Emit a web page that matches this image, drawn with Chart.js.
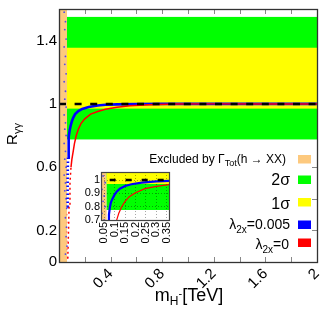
<!DOCTYPE html>
<html>
<head>
<meta charset="utf-8">
<script src="https://cdn.jsdelivr.net/npm/chart.js@4.4.0/dist/chart.umd.min.js"></script>
<style>
  html, body { margin: 0; padding: 0; background: #fff; }
  #wrap { position: relative; width: 335px; height: 310px; }
  #main { position: absolute; left: 0; top: 0; }
  #inset { position: absolute; left: 78px; top: 168px; }
</style>
</head>
<body>
<div id="wrap">
  <canvas id="main" width="335" height="310"></canvas>
  <canvas id="inset" width="96" height="84"></canvas>
</div>
<script>
/* data: R_γγ vs m_H- */
const excludedMax = 0.062;          // Γ_Tot(h → XX) excluded region (TeV)
const band2s = [0.775, 1.55];
const band1s = [0.97, 1.355];
const refY = 1;

const blueX = [0.064, 0.067, 0.07, 0.073, 0.077, 0.082, 0.09, 0.1, 0.11, 0.125, 0.15, 0.18, 0.23, 0.3, 0.36, 0.45, 0.6, 0.8, 1.1, 1.5, 2.0];
const blueY = [0.35, 0.55, 0.66, 0.74, 0.79, 0.83, 0.86, 0.89, 0.912, 0.935, 0.955, 0.968, 0.98, 0.99, 0.994, 0.997, 0.999, 1.0, 1.0, 1.0, 1.0];

const redX = [0.068, 0.072, 0.078, 0.085, 0.093, 0.1, 0.111, 0.12, 0.134, 0.15, 0.17, 0.2, 0.245, 0.3, 0.36, 0.45, 0.55, 0.7, 0.9, 1.2, 1.6, 2.0];
const redY = [0.02, 0.14, 0.35, 0.5, 0.6, 0.65, 0.705, 0.75, 0.8, 0.84, 0.875, 0.905, 0.935, 0.952, 0.966, 0.978, 0.988, 0.995, 0.999, 1.0, 1.0, 1.0];

// scattered points inside the excluded strip
const blueDotX = [0.04, 0.05, 0.045, 0.055, 0.04, 0.05, 0.045, 0.055, 0.04, 0.05, 0.045, 0.055, 0.04, 0.05, 0.045, 0.055, 0.04, 0.05, 0.045, 0.055, 0.04, 0.05, 0.045, 0.055, 0.06, 0.05, 0.058, 0.055, 0.062, 0.05];
const blueDotY = [1.58, 1.52, 1.47, 1.41, 1.36, 1.3, 1.25, 1.19, 1.14, 1.08, 1.03, 0.98, 0.93, 0.88, 0.84, 0.8, 0.75, 0.7, 0.65, 0.6, 0.55, 0.5, 0.45, 0.4, 0.34, 0.28, 0.22, 0.16, 0.1, 0.05];
const redDotX = [0.062, 0.065, 0.06, 0.066, 0.063, 0.067];
const redDotY = [0.3, 0.25, 0.19, 0.13, 0.08, 0.03];

const xTicks = [0, 0.2, 0.4, 0.6, 0.8, 1, 1.2, 1.4, 1.6, 1.8, 2];
const xTickLabels = ['', '', '0.4', '', '0.8', '', '1.2', '', '1.6', '', '2'];
const yTicks = [0, 0.2, 0.4, 0.6, 0.8, 1, 1.2, 1.4, 1.6];
const yTickLabels = ['0', '0.2', '', '0.6', '', '1', '', '1.4', ''];

const insetXTicks = [0.05, 0.1, 0.15, 0.2, 0.25, 0.3, 0.35];
const insetXTickLabels = ['0.05', '0.1', '0.15', '0.2', '0.25', '0.3', '0.35'];
const insetYTicks = [0.7, 0.8, 0.9, 1];
const insetYTickLabels = ['0.7', '0.8', '0.9', '1'];

const legendColors = ['#fdc97e', '#00ff00', '#ffff00', '#0000ff', '#ff0000'];

const ORANGE = '#fdc97e', GREEN = '#00ff00', YELLOW = '#ffff00', BLUE = '#0000ff', RED = '#ff0000';
const FAM = '"Liberation Sans", Arial, Helvetica, sans-serif';
Chart.defaults.font.family = FAM;
Chart.defaults.color = '#000';

const pts = (xs, ys) => xs.map((x, i) => ({ x, y: ys[i] }));
const noPadX = s => { s.paddingLeft = 0; s.paddingRight = 0; };
const noPadY = s => { s.paddingTop = 0; s.paddingBottom = 0; };

/* text with sub/superscripts: parts = [text, size, dy] */
function richWidth(ctx, parts) {
  return parts.reduce((w, [t, s]) => { ctx.font = s + 'px ' + FAM; return w + ctx.measureText(t).width; }, 0);
}
function drawRich(ctx, parts, x, y) {
  parts.forEach(([t, s, dy]) => {
    ctx.font = s + 'px ' + FAM;
    ctx.fillText(t, x, y + (dy || 0));
    x += ctx.measureText(t).width;
  });
}

function datasets(lw) {
  return [
    { data: [{ x: 0, y: refY }, { x: 2, y: refY }], showLine: true, borderColor: '#000', borderWidth: 2.5,
      borderDash: lw.dash, pointRadius: 0 },
    { data: pts(redX, redY), showLine: true, borderColor: RED, borderWidth: lw.red, pointRadius: 0,
      segment: { borderDash: c => c.p1.parsed.y < 0.62 ? [2, 3] : undefined } },
    { data: pts(blueX, blueY), showLine: true, borderColor: BLUE, borderWidth: lw.blue, pointRadius: 0,
      segment: { borderDash: c => c.p1.parsed.y < 0.74 ? [1.5, 2.5] : undefined } },
    { data: pts(blueDotX, blueDotY), showLine: false, pointRadius: 0.9, pointBorderWidth: 0,
      pointBackgroundColor: 'rgba(40,40,255,0.8)' },
    { data: pts(redDotX, redDotY), showLine: false, pointRadius: 0.9, pointBorderWidth: 0,
      pointBackgroundColor: 'rgba(255,80,80,0.5)' },
  ];
}

function fillBands(chart) {
  const { ctx, chartArea: a, scales: { x, y } } = chart;
  const px = v => Math.max(a.left, Math.min(a.right, x.getPixelForValue(v)));
  const py = v => Math.max(a.top, Math.min(a.bottom, y.getPixelForValue(v)));
  const rect = (x0, x1, y0, y1, c) => { ctx.fillStyle = c; ctx.fillRect(px(x0), py(y1), px(x1) - px(x0), py(y0) - py(y1)); };
  rect(x.min, excludedMax, y.min, y.max, ORANGE);
  rect(excludedMax, x.max, band2s[0], band2s[1], GREEN);
  rect(excludedMax, x.max, band1s[0], band1s[1], YELLOW);
}

/* ---- main chart ---- */
const mainPlugin = {
  id: 'mainDeco',
  beforeDraw(chart) {
    const { ctx, chartArea: a, scales: { x, y } } = chart;
    ctx.save();
    ctx.fillStyle = '#fff';
    ctx.fillRect(0, 0, chart.width, chart.height);
    ctx.strokeStyle = '#888';
    ctx.lineWidth = 1;
    ctx.beginPath();
    xTicks.forEach(v => {
      const p = Math.round(x.getPixelForValue(v)) + 0.5;
      ctx.moveTo(p, a.bottom); ctx.lineTo(p, a.bottom - 5);
      ctx.moveTo(p, a.top); ctx.lineTo(p, a.top + 5);
    });
    yTicks.forEach(v => {
      const p = Math.round(y.getPixelForValue(v)) + 0.5;
      ctx.moveTo(a.left, p); ctx.lineTo(a.left + 5, p);
      ctx.moveTo(a.right, p); ctx.lineTo(a.right - 5, p);
    });
    ctx.stroke();
    fillBands(chart);
    ctx.restore();
  },
  afterDraw(chart) {
    const { ctx, chartArea: a } = chart;
    ctx.save();
    ctx.strokeStyle = '#333';
    ctx.lineWidth = 1.3;
    ctx.strokeRect(a.left + 0.5, a.top + 0.5, a.right - a.left, a.bottom - a.top);

    // legend
    ctx.textBaseline = 'alphabetic';
    const items = [
      { parts: [['Excluded by Γ', 12], ['Tot', 9, 3], ['(h → XX)', 12]], base: 163, right: 286, box: 155 },
      { parts: [['2σ', 16]], base: 185, right: 290, box: 175.5 },
      { parts: [['1σ', 16]], base: 209, right: 290, box: 198 },
      { parts: [['λ', 14], ['2x', 10, 4], ['=0.005', 14]], base: 228.5, right: 290, box: 220.5 },
      { parts: [['λ', 14], ['2x', 10, 4], ['=0', 14]], base: 248.5, right: 289, box: 238.5 },
    ];
    items.forEach((it, i) => {
      ctx.fillStyle = '#000';
      drawRich(ctx, it.parts, it.right - richWidth(ctx, it.parts), it.base);
      ctx.fillStyle = legendColors[i];
      ctx.fillRect(298, it.box, 13, 8.5);
    });

    // axis titles
    ctx.fillStyle = '#000';
    const xt = [['m', 18], ['H', 12, 4], ['-', 11, -4], ['[TeV]', 18]];
    drawRich(ctx, xt, 189 - richWidth(ctx, xt) / 2, 301);
    const yt = [['R', 15], ['γγ', 11, 4]];
    ctx.translate(16.5, 134);
    ctx.rotate(-Math.PI / 2);
    drawRich(ctx, yt, -richWidth(ctx, yt) / 2, 0);
    ctx.restore();
  }
};

new Chart(document.getElementById('main'), {
  type: 'scatter',
  data: { datasets: datasets({ red: 1.5, blue: 2.6, dash: [7, 8.6] }) },
  options: {
    responsive: false,
    animation: false,
    devicePixelRatio: 1,
    events: [],
    layout: { padding: { left: 0, top: 9, right: 18, bottom: 0 } },
    plugins: { legend: { display: false }, tooltip: { enabled: false } },
    scales: {
      x: {
        type: 'linear', min: 0, max: 2,
        afterBuildTicks: s => { s.ticks = xTicks.map(v => ({ value: v })); },
        afterFit: s => { s.height = 48; noPadX(s); },
        ticks: { callback: (v, i) => xTickLabels[i], minRotation: 45, maxRotation: 45, autoSkip: false,
                 font: { size: 15 }, padding: 3 },
        grid: { display: false, drawTicks: false }, border: { display: false }
      },
      y: {
        type: 'linear', min: 0, max: 1.6,
        afterBuildTicks: s => { s.ticks = yTicks.map(v => ({ value: v })); },
        afterFit: s => { s.width = 59; noPadY(s); },
        ticks: { callback: (v, i) => yTickLabels[i], autoSkip: false, font: { size: 15 }, padding: 2 },
        grid: { display: false, drawTicks: false }, border: { display: false }
      }
    }
  },
  plugins: [mainPlugin]
});

/* ---- inset: zoom on the low-mass region ---- */
const insetPlugin = {
  id: 'insetDeco',
  beforeDraw(chart) { chart.ctx.save(); fillBands(chart); chart.ctx.restore(); },
  afterDraw(chart) {
    const { ctx, chartArea: a } = chart;
    ctx.save();
    ctx.strokeStyle = '#444';
    ctx.lineWidth = 1.2;
    ctx.strokeRect(a.left + 0.5, a.top + 0.5, a.right - a.left, a.bottom - a.top);
    ctx.restore();
  }
};

new Chart(document.getElementById('inset'), {
  type: 'scatter',
  data: { datasets: datasets({ red: 1.2, blue: 2.2, dash: [6, 10] }) },
  options: {
    responsive: false,
    animation: false,
    devicePixelRatio: 1,
    events: [],
    layout: { padding: { left: 0, top: 4, right: 5, bottom: 0 } },
    plugins: { legend: { display: false }, tooltip: { enabled: false } },
    scales: {
      x: {
        type: 'linear', min: 0.035, max: 0.36,
        afterBuildTicks: s => { s.ticks = insetXTicks.map(v => ({ value: v })); },
        afterFit: s => { s.height = 32; noPadX(s); },
        ticks: { callback: (v, i) => insetXTickLabels[i], minRotation: 90, maxRotation: 90, autoSkip: false,
                 font: { size: 11 }, padding: 2 },
        grid: { color: 'rgba(0,0,0,0.35)', borderDash: [1, 2], drawTicks: false },
        border: { display: false, dash: [1, 2] }
      },
      y: {
        type: 'linear', min: 0.7, max: 1.06,
        afterBuildTicks: s => { s.ticks = insetYTicks.map(v => ({ value: v })); },
        afterFit: s => { s.width = 23; noPadY(s); },
        ticks: { callback: (v, i) => insetYTickLabels[i], autoSkip: false, font: { size: 11 }, padding: 1 },
        grid: { color: 'rgba(0,0,0,0.35)', drawTicks: false },
        border: { display: false, dash: [1, 2] }
      }
    }
  },
  plugins: [insetPlugin]
});
</script>
</body>
</html>
